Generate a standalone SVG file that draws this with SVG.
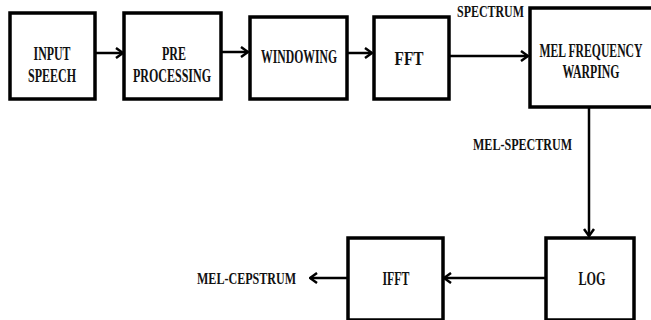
<svg xmlns="http://www.w3.org/2000/svg" width="651" height="320" viewBox="0 0 651 320">
<defs>
<style>
.box{fill:#fff;stroke:#000;stroke-width:3.5}
.ln{fill:none;stroke:#000;stroke-width:2.5;marker-end:url(#ah)}
text{font-family:"Liberation Serif","Times New Roman",serif;font-weight:bold;font-size:19px;fill:#111}
.c{text-anchor:middle}
.lbl{font-size:16px}
</style>
<marker id="ah" markerWidth="10" markerHeight="12" viewBox="0 0 10 12" refX="9" refY="6" orient="auto" markerUnits="userSpaceOnUse">
<path d="M2,1 L9,6 L2,11" fill="none" stroke="#000" stroke-width="2.5"/>
</marker>
</defs>
<rect width="651" height="320" fill="#fff"/>
<g id="connectors">
<line class="ln" x1="95" y1="53" x2="123" y2="53"/>
<line class="ln" x1="221" y1="52" x2="248" y2="52"/>
<line class="ln" x1="347" y1="53" x2="372" y2="53"/>
<line class="ln" x1="449" y1="56" x2="528" y2="56"/>
<line class="ln" x1="589" y1="107" x2="589" y2="236"/>
<line class="ln" x1="545" y1="278" x2="444" y2="278"/>
<line class="ln" x1="347" y1="278" x2="310" y2="278"/>
</g>
<g id="input-speech">
<rect class="box" x="10" y="13" width="85" height="86"/>
<text class="c" x="52" y="60" textLength="37" lengthAdjust="spacingAndGlyphs">INPUT</text>
<text class="c" x="52" y="82" textLength="48" lengthAdjust="spacingAndGlyphs">SPEECH</text>
</g>
<g id="pre-processing">
<rect class="box" x="124" y="13" width="97" height="86"/>
<text class="c" x="174" y="60" textLength="24" lengthAdjust="spacingAndGlyphs">PRE</text>
<text class="c" x="172" y="82" textLength="78" lengthAdjust="spacingAndGlyphs">PROCESSING</text>
</g>
<g id="windowing">
<rect class="box" x="250" y="17" width="97" height="82"/>
<text class="c" x="299" y="63" textLength="76" lengthAdjust="spacingAndGlyphs">WINDOWING</text>
</g>
<g id="fft">
<rect class="box" x="374" y="17" width="75" height="82"/>
<text class="c" x="409" y="65" textLength="29" lengthAdjust="spacingAndGlyphs">FFT</text>
</g>
<g id="mel-frequency-warping">
<path class="box" d="M653,8 H530 V107 H653"/>
<text class="c" x="591" y="57" textLength="103" lengthAdjust="spacingAndGlyphs">MEL FREQUENCY</text>
<text class="c" x="591" y="78" textLength="57" lengthAdjust="spacingAndGlyphs">WARPING</text>
</g>
<g id="log">
<rect class="box" x="546" y="238" width="88" height="82"/>
<text class="c" x="592" y="285" textLength="27" lengthAdjust="spacingAndGlyphs">LOG</text>
</g>
<g id="ifft">
<rect class="box" x="348" y="238" width="95" height="82"/>
<text class="c" x="396" y="285" textLength="27" lengthAdjust="spacingAndGlyphs">IFFT</text>
</g>
<g id="labels">
<text class="lbl" x="457" y="17" textLength="67" lengthAdjust="spacingAndGlyphs">SPECTRUM</text>
<text class="lbl" x="473" y="150" textLength="99" lengthAdjust="spacingAndGlyphs">MEL-SPECTRUM</text>
<text class="lbl" x="197" y="284" textLength="99" lengthAdjust="spacingAndGlyphs">MEL-CEPSTRUM</text>
</g>
</svg>
